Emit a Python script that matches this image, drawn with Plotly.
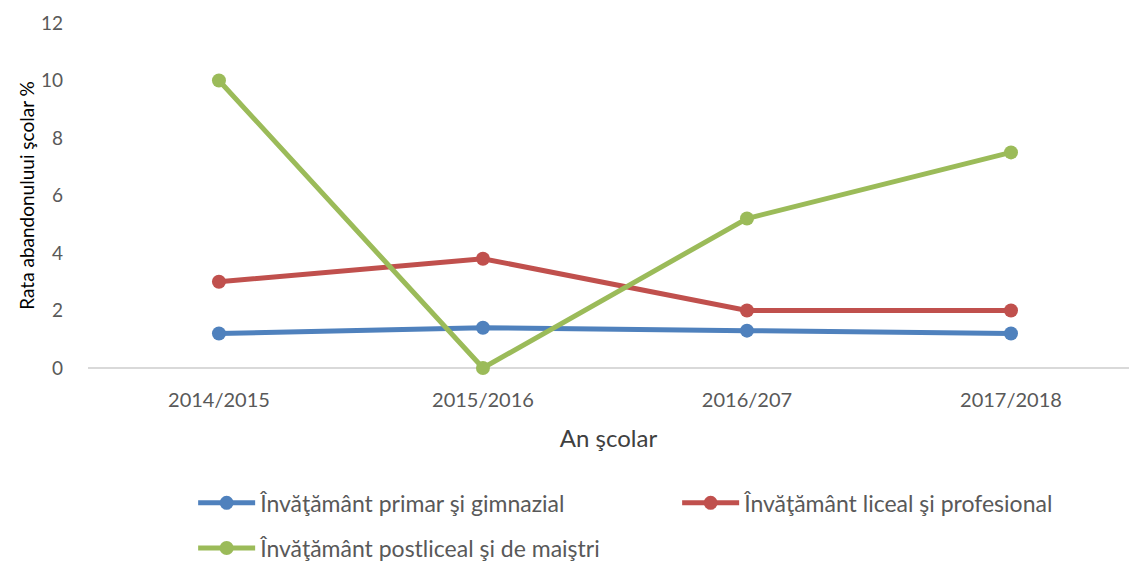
import plotly.graph_objects as go

categories = ["2014/2015", "2015/2016", "2016/207", "2017/2018"]
primar = [1.2, 1.4, 1.3, 1.2]
liceal = [3.0, 3.8, 2.0, 2.0]
postliceal = [10.0, 0.0, 5.2, 7.5]
series_names = ["Învăţământ primar şi gimnazial", "Învăţământ liceal şi profesional", "Învăţământ postliceal şi de maiştri"]
colors = ["#4F81BD", "#C0504D", "#9BBB59"]
legend_ids = ["legend", "legend", "legend2"]
y_ticks = [0, 2, 4, 6, 8, 10, 12]

FONT = "Lato"
fig = go.Figure()
for name, vals, col, lg in zip(series_names, [primar, liceal, postliceal], colors, legend_ids):
    fig.add_trace(go.Scatter(
        x=list(range(len(categories))), y=vals, name=name, mode="lines+markers",
        line=dict(color=col, width=5), marker=dict(color=col, size=14), legend=lg,
        cliponaxis=False,
    ))

leg_common = dict(orientation="h", xanchor="left", yanchor="middle",
                  font=dict(family=FONT, size=23, color="#595959"),
                  itemwidth=57, bgcolor="rgba(0,0,0,0)")
fig.update_layout(
    width=1129, height=561,
    margin=dict(l=88, r=0, t=23, b=193, autoexpand=False),
    paper_bgcolor="white", plot_bgcolor="white",
    font=dict(family=FONT, color="#595959", size=18),
    showlegend=True,
    legend=dict(x=0.101, y=-0.391, entrywidth=412, entrywidthmode="pixels", **leg_common),
    legend2=dict(x=0.101, y=-0.522, **leg_common),
    xaxis=dict(tickmode="array", tickvals=list(range(len(categories))), ticktext=categories,
               range=[-0.496, 3.447], showgrid=False, zeroline=False, showline=False,
               ticks="", tickfont=dict(size=20, color="#595959"), ticklabelstandoff=18,
               title=dict(text="An şcolar", font=dict(size=24, color="#404040"), standoff=20)),
    yaxis=dict(range=[0, 12], tickvals=y_ticks, showgrid=False, zeroline=True,
               zerolinecolor="#D9D9D9", zerolinewidth=2, showline=False, ticks="",
               tickfont=dict(size=19, color="#595959"), ticklabelstandoff=24,
               title=dict(text="Rata abandonuluui şcolar %", font=dict(size=19, color="#000000"), standoff=1)),
)
fig.write_html("out.html", config={"displayModeBar": False},
               post_script="document.body.style.margin='0px';")
